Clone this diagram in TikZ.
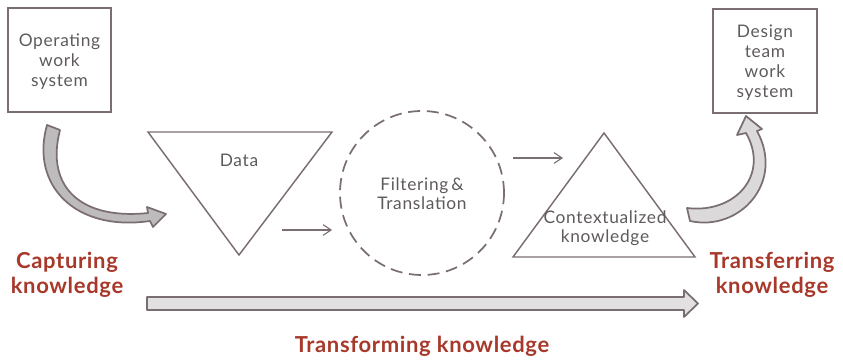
\documentclass[tikz,border=0pt]{standalone}
\usepackage{fontspec}
\setmainfont{Lato}
\usetikzlibrary{arrows.meta}
\definecolor{strk}{HTML}{7A6E70}
\definecolor{txtg}{HTML}{5E5A5B}
\definecolor{redt}{HTML}{A8382A}
\definecolor{fillA}{HTML}{BDBBBC}
\definecolor{fillB}{HTML}{E2E0E1}
\tikzset{
  shp/.style={draw=strk, line width=1.1pt},
  lbl/.style={text=txtg, font=\fontsize{13}{15}\selectfont\addfontfeatures{LetterSpace=4}, align=center, inner sep=0pt},
  red/.style={text=redt, font=\fontsize{16.5}{18}\selectfont\bfseries\addfontfeatures{LetterSpace=3}, align=center, inner sep=0pt},
  thin/.style={draw=strk, line width=0.8pt, -{Straight Barb[length=6pt,width=8pt]}},
  fat/.style={draw=strk, line width=1.3pt, line join=round}
}
\begin{document}
\begin{tikzpicture}[x=0.75pt,y=-0.75pt]
\useasboundingbox (0,0) rectangle (843,360);
% boxes
\node[shp, minimum width=103*0.75pt, minimum height=104*0.75pt, inner sep=0pt] (ows) at (59.5,60) {};
\node[lbl] (owsT) at (59.5,62) {Operating\\ work\\ system};
\node[shp, minimum width=104*0.75pt, minimum height=104*0.75pt, inner sep=0pt] (dtw) at (765,61) {};
\node[lbl] (dtwT) at (765,63) {Design\\ team\\ work\\ system};
% inverted triangle
\draw[shp, line join=miter] (148,132) -- (332,132) -- (239,255) -- cycle;
\node[lbl] (data) at (239,160) {Data};
% circle
\node[draw=strk, line width=1.3pt, dash pattern=on 9pt off 5pt, circle, minimum size=164*0.75pt, inner sep=0pt] (circ) at (422,193) {};
\node[lbl] (filt) at (422,194) {Filtering\,\&\\[-1pt] Translation};
% upright triangle
\draw[shp, line join=miter] (604,133) -- (695,257) -- (513,257) -- cycle;
\node[lbl] (ctx) at (605,228) {Contextualized\\[-1pt] knowledge};
% thin arrows
\coordinate (a1s) at (282,230); \coordinate (a1e) at (332,230);
\coordinate (a2s) at (513,158); \coordinate (a2e) at (563,158);
\draw[thin] (a1s) -- (a1e);
\draw[thin] (a2s) -- (a2e);
% left curved arrow
\filldraw[fat, fill=fillA] (47,125) -- (60,130)
  .. controls (45,188) and (82,220) .. (148,213)
  -- (147,207) -- (166,214) -- (153,227) -- (150,221)
  .. controls (75,232) and (30,185) .. cycle;
% right curved arrow
\filldraw[fat, fill=fillB!80!fillA] (687,208) -- (690,221)
  .. controls (740,232) and (785,182) .. (757,131)
  -- (762,129) -- (746,116) -- (737,135) -- (746,133)
  .. controls (770,175) and (735,214) .. cycle;
% big arrow
\filldraw[fat, fill=fillB] (147,297) -- (684,297) -- (684,290) -- (698,303.5) -- (684,317) -- (684,310) -- (147,310) -- cycle;
% red labels
\node[red] (cap) at (67,275) {Capturing\\[1pt] knowledge};
\node[red] (tra) at (772,275) {Transferring\\[1pt] knowledge};
\node[red] (trf) at (422,346) {Transforming knowledge};
\end{tikzpicture}
\end{document}
